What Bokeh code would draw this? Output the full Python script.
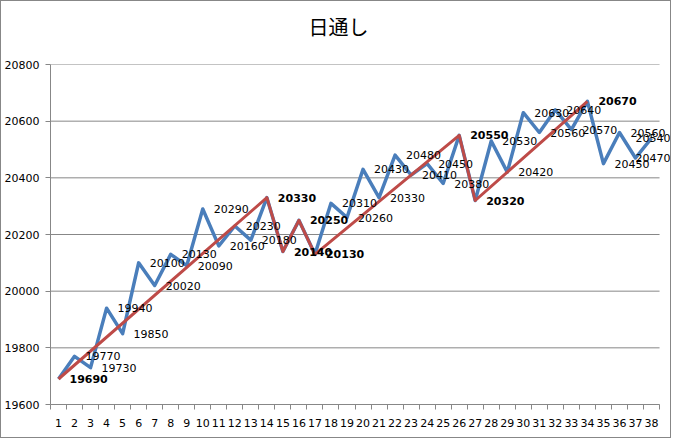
from bokeh.plotting import figure
from bokeh.models import Range1d, FixedTicker, ColumnDataSource, LabelSet, Title
from bokeh.embed import file_html
from bokeh.resources import INLINE
from bokeh.core.properties import value

# ---- data ----
days = list(range(1, 39))
prices = [19690, 19770, 19730, 19940, 19850, 20100, 20020, 20130, 20090, 20290,
          20160, 20230, 20180, 20330, 20140, 20250, 20130, 20310, 20260, 20430,
          20330, 20480, 20410, 20450, 20380, 20550, 20320, 20530, 20420, 20630,
          20560, 20640, 20570, 20670, 20450, 20560, 20470, 20540]
zigzag = [19690, None, None, None, None, None, None, None, None, None,
          None, None, None, 20330, 20140, 20250, 20130, None, None, None,
          None, None, None, None, None, 20550, 20320, None, None, None,
          None, None, None, 20670, None, None, None, None]
y_ticks = [19600, 19800, 20000, 20200, 20400, 20600, 20800]
title_text = "日通し"

# ---- layout constants ----
W, H = 671, 438
LEFT, RIGHT, TOP, BOTTOM = 47, 2, 63, 35
PLOT_W = 611          # pixel width of the 38 category slots
LABEL_W = 35
BLUE = "#4A7EBB"
RED = "#BE4B48"
GRID = "#878787"
FONT = "DejaVu Sans"

n = len(days)
x_lo = days[0] - 0.5
x_hi = days[-1] + 0.5
x_end = x_lo + n * (W - LEFT - RIGHT) / PLOT_W

p = figure(width=W, height=H, output_backend="svg", toolbar_location=None,
           title=None,
           x_range=Range1d(x_lo, x_end), y_range=Range1d(y_ticks[0], y_ticks[-1]),
           min_border_left=LEFT, min_border_right=RIGHT,
           min_border_top=TOP, min_border_bottom=BOTTOM)
p.styles = {"border": "1px solid " + GRID}
p.outline_line_color = None
p.background_fill_color = "white"
p.border_fill_color = "white"

# title (spacer first = nearest to frame, then the real title)
p.add_layout(Title(text=" ", text_font_size="1px", standoff=21), "above")
p.add_layout(Title(text=title_text, align="left", offset=258, standoff=0,
                   text_font="Noto Sans CJK JP", text_font_size="20px",
                   text_font_style="normal", text_color="#000000"), "above")

# axes
p.xaxis.ticker = FixedTicker(ticks=days, minor_ticks=[d - 0.5 for d in days] + [x_hi])
p.xaxis.bounds = (x_lo, x_hi)
p.xaxis.major_tick_out = 0
p.xaxis.major_tick_in = 0
p.xaxis.minor_tick_out = 5
p.xaxis.minor_tick_in = 0
p.xaxis.minor_tick_line_color = GRID
p.xaxis.axis_line_color = GRID
p.xaxis.major_label_standoff = 9
p.xaxis.major_label_text_font = FONT
p.xaxis.major_label_text_font_size = "11px"
p.xaxis.major_label_text_color = "#000000"

p.yaxis.ticker = FixedTicker(ticks=y_ticks)
p.yaxis.major_tick_out = 5
p.yaxis.major_tick_in = 0
p.yaxis.minor_tick_out = 0
p.yaxis.minor_tick_in = 0
p.yaxis.major_tick_line_color = GRID
p.yaxis.axis_line_color = GRID
p.yaxis.major_label_standoff = 6
p.yaxis.major_label_text_font = FONT
p.yaxis.major_label_text_font_size = "11px"
p.yaxis.major_label_text_color = "#000000"

p.xgrid.grid_line_color = None
p.ygrid.grid_line_color = None
# horizontal gridlines limited to the category span
p.segment(x0=[x_lo] * len(y_ticks), x1=[x_hi] * len(y_ticks), y0=y_ticks, y1=y_ticks,
          line_color=GRID, line_width=1)

# lines
p.line(days, prices, line_color=BLUE, line_width=3.5, line_join="round")
zx = [d for d, v in zip(days, zigzag) if v is not None]
zy = [v for v in zigzag if v is not None]
p.line(zx, zy, line_color=RED, line_width=3, line_join="round")

# label offsets (keep labels inside chart area)
px = PLOT_W / n


def offset_for(d):
    cx = LEFT + (d - x_lo) * px
    left = cx + 11
    if left + LABEL_W > W - 2:
        return (W - 2 - LABEL_W) - cx
    return 11

blue_lab = [(d, v) for d, v, z in zip(days, prices, zigzag) if z is None]
src_b = ColumnDataSource(dict(x=[d for d, _ in blue_lab], y=[v for _, v in blue_lab],
                              t=[str(v) for _, v in blue_lab],
                              off=[offset_for(d) for d, _ in blue_lab]))
p.add_layout(LabelSet(x="x", y="y", text="t", x_offset="off", source=src_b,
                      text_font=value(FONT), text_font_size="11px", text_color="#000000",
                      text_align="left", text_baseline="middle", level="overlay"))

src_r = ColumnDataSource(dict(x=zx, y=zy, t=[str(v) for v in zy],
                              off=[offset_for(d) for d in zx]))
p.add_layout(LabelSet(x="x", y="y", text="t", x_offset="off", source=src_r,
                      text_font=value(FONT), text_font_size="11px", text_color="#000000",
                      text_font_style="bold", text_align="left",
                      text_baseline="middle", level="overlay"))

open("out.html", "w").write(file_html(p, INLINE))
